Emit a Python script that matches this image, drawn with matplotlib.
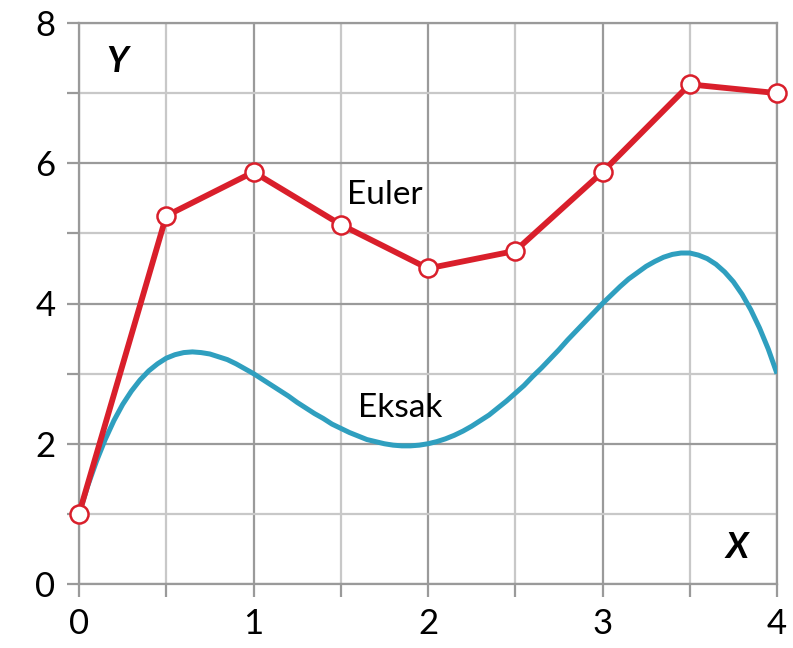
import matplotlib
matplotlib.use("Agg")
import matplotlib.pyplot as plt
from matplotlib.ticker import MultipleLocator

# Euler approximation (step 0.5)
euler_x = [0, 0.5, 1, 1.5, 2, 2.5, 3, 3.5, 4]
euler_y = [1, 5.25, 5.875, 5.125, 4.5, 4.75, 5.875, 7.125, 7.0]

exact_x = [i / 20 for i in range(81)]
exact_y = [1.00, 1.40, 1.75, 2.06, 2.33, 2.56, 2.75, 2.91, 3.04, 3.14,
           3.22, 3.27, 3.30, 3.31, 3.30, 3.28, 3.24, 3.20, 3.14, 3.07,
           3.00, 2.92, 2.84, 2.76, 2.68, 2.59, 2.51, 2.43, 2.36, 2.28,
           2.22, 2.16, 2.11, 2.06, 2.03, 2.00, 1.98, 1.97, 1.97, 1.98,
           2.00, 2.03, 2.07, 2.12, 2.18, 2.25, 2.33, 2.41, 2.51, 2.61,
           2.72, 2.83, 2.96, 3.08, 3.21, 3.34, 3.48, 3.61, 3.74, 3.87,
           4.00, 4.12, 4.24, 4.35, 4.44, 4.53, 4.60, 4.66, 4.70, 4.72,
           4.72, 4.69, 4.64, 4.56, 4.45, 4.31, 4.13, 3.91, 3.65, 3.35,
           3.00]

RED = "#d91f2b"
BLUE = "#2f9fbf"
GRID_MAJOR = "#9a9a9a"
GRID_MINOR = "#c8c8c8"

plt.rcParams["font.family"] = ["Lato", "DejaVu Sans"]

fig = plt.figure(figsize=(7.93, 6.48), dpi=100)
ax = fig.add_axes([79 / 793, 1 - 584 / 648, 698 / 793, 561 / 648])

ax.set_xlim(0, 4)
ax.set_ylim(0, 8)
ax.xaxis.set_major_locator(MultipleLocator(1))
ax.xaxis.set_minor_locator(MultipleLocator(0.5))
ax.yaxis.set_major_locator(MultipleLocator(2))
ax.yaxis.set_minor_locator(MultipleLocator(1))

ax.grid(True, which="major", color=GRID_MAJOR, linewidth=1.6)
ax.grid(True, which="minor", color=GRID_MINOR, linewidth=1.6)
ax.set_axisbelow(True)

for spine in ax.spines.values():
    spine.set_color(GRID_MAJOR)
    spine.set_linewidth(1.6)

ax.tick_params(which="both", direction="out", length=9, width=1.6,
               color=GRID_MAJOR, labelsize=25, pad=8)
ax.tick_params(which="minor", labelleft=False, labelbottom=False)

ax.plot(exact_x, exact_y, color=BLUE, linewidth=3.6, zorder=3,
        solid_joinstyle="round", solid_capstyle="butt")
ax.plot(euler_x, euler_y, color=RED, linewidth=4.2, marker="o",
        markersize=13, markerfacecolor="white", markeredgecolor=RED,
        markeredgewidth=1.8, zorder=4, clip_on=False)

ax.text(1.75, 5.55, "Euler", fontsize=24, ha="center", va="center")
ax.text(1.84, 2.51, "Eksak", fontsize=24, ha="center", va="center")
ax.text(0.22, 7.45, "Y", fontsize=26, fontweight="bold", fontstyle="italic",
        ha="center", va="center")
ax.text(3.77, 0.52, "X", fontsize=26, fontweight="bold", fontstyle="italic",
        ha="center", va="center")

fig.savefig("out.png", dpi=100)
plt.close(fig)
